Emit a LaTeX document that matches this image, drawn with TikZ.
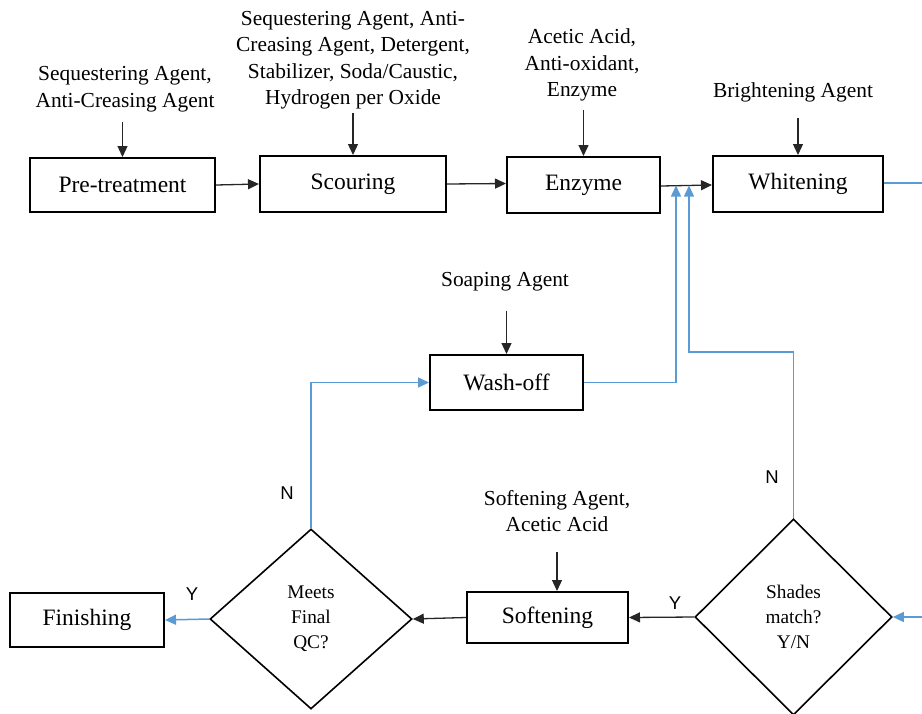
\documentclass[tikz,border=0pt]{standalone}
\usepackage{fontspec}
\setmainfont{Liberation Serif}
\newfontfamily\ynfont{Liberation Sans}
\usetikzlibrary{shapes.geometric,arrows.meta}
\definecolor{flowblue}{RGB}{91,155,213}

\begin{document}
\begin{tikzpicture}[x=1pt,y=-1pt,
  procbox/.style={draw=black,line width=2pt,inner sep=0pt,
    font=\fontsize{23.5}{28}\selectfont},
  decision/.style={diamond,draw=black,line width=1.6pt,inner sep=0pt,
    align=center,font=\fontsize{19.3}{25}\selectfont},
  inlabel/.style={inner sep=0pt,align=center,font=\fontsize{21.4}{26.5}\selectfont},
  ynlabel/.style={inner sep=0pt,font=\ynfont\fontsize{18.5}{20}\selectfont},
  blk/.style={draw=black!85,line width=1.3pt,-{Triangle[length=11pt,width=10pt]}},
  bluel/.style={draw=flowblue,line width=1.5pt},
  blueA/.style={bluel,-{Triangle[length=11pt,width=10pt]}}]
\useasboundingbox (0,0) rectangle (922,713);

% main process boxes
\node[procbox,minimum width=185pt,minimum height=54pt] (pre)   at (122.5,185) {Pre-treatment};
\node[procbox,minimum width=186pt,minimum height=56pt] (scour) at (353,184)   {Scouring};
\node[procbox,minimum width=153pt,minimum height=56pt] (enz)   at (583.5,185) {Enzyme};
\node[procbox,minimum width=170pt,minimum height=56pt] (whit)  at (798,184)   {Whitening};
\node[procbox,minimum width=153pt,minimum height=55pt] (wash)  at (506.5,382.5) {Wash-off};
\node[procbox,minimum width=161pt,minimum height=51pt] (soft)  at (547.5,617.5) {Softening};
\node[procbox,minimum width=154pt,minimum height=54pt] (fin)   at (87,620)  {Finishing};

% decisions
\node[decision,minimum width=202pt,minimum height=180pt] (qc)    at (311,619) {Meets\\Final\\QC?};
\node[decision,minimum width=197pt,minimum height=196pt] (shade) at (793.5,617) {Shades\\match?\\Y/N};

% chemical inputs
\node[inlabel] (in1) at (125,89)  {Sequestering Agent,\\Anti-Creasing Agent};
\node[inlabel] (in2) at (353,60)  {Sequestering Agent, Anti-\\Creasing Agent, Detergent,\\Stabilizer, Soda/Caustic,\\Hydrogen per Oxide};
\node[inlabel] (in3) at (582,65)  {Acetic Acid,\\Anti-oxidant,\\Enzyme};
\node[inlabel] (in4) at (793,92)  {Brightening Agent};
\node[inlabel] (in5) at (505,282) {Soaping Agent};
\node[inlabel] (in6) at (557,511) {Softening Agent,\\Acetic Acid};

\draw[blk,shorten <=10pt] (in1.south -| pre.north)   -- (pre.north);
\draw[blk,shorten <=4pt]  (in2.south -| scour.north) -- (scour.north);
\draw[blk,shorten <=9pt]  (in3.south -| enz.north)   -- (enz.north);
\draw[blk,shorten <=16pt] (in4.south -| whit.north)  -- (whit.north);
\draw[blk,shorten <=19pt] (in5.south -| wash.north)  -- (wash.north);
\draw[blk,shorten <=20pt] (in6.south)                -- (in6.south |- soft.north);

% main line
\draw[blk] (pre.east) -- (scour.west);
\draw[blk] (scour.east) -- ([yshift=1.5pt]enz.west);
\draw[blk] ([yshift=-1pt]enz.east) -- ([yshift=-1pt]whit.west);

% return loops into the main line
\coordinate (j1) at (676,185.5);
\coordinate (j2) at (689,185.5);
\coordinate (offR) at (922,183);
\coordinate (inR) at (922,617);
\draw[bluel] (whit.east |- offR) -- (offR);
\draw[blueA] (wash.east) -| (j1);
\draw[blueA] (shade.north) -- ++(0,-166) -| (j2);
\draw[blueA] (inR) -- (shade.east);

% decision outcomes
\draw[blk] (shade.west) -- (soft.east);
\draw[blk] (soft.west) -- (qc.east);
\draw[blueA] (qc.west) -- (fin.east);
\draw[blueA] (qc.north) |- (wash.west);

\node[ynlabel] (n1) at (287,493) {N};
\node[ynlabel] (n2) at (772,477) {N};
\node[ynlabel] (y1) at (192,594) {Y};
\node[ynlabel] (y2) at (675,603) {Y};
\end{tikzpicture}
\end{document}
